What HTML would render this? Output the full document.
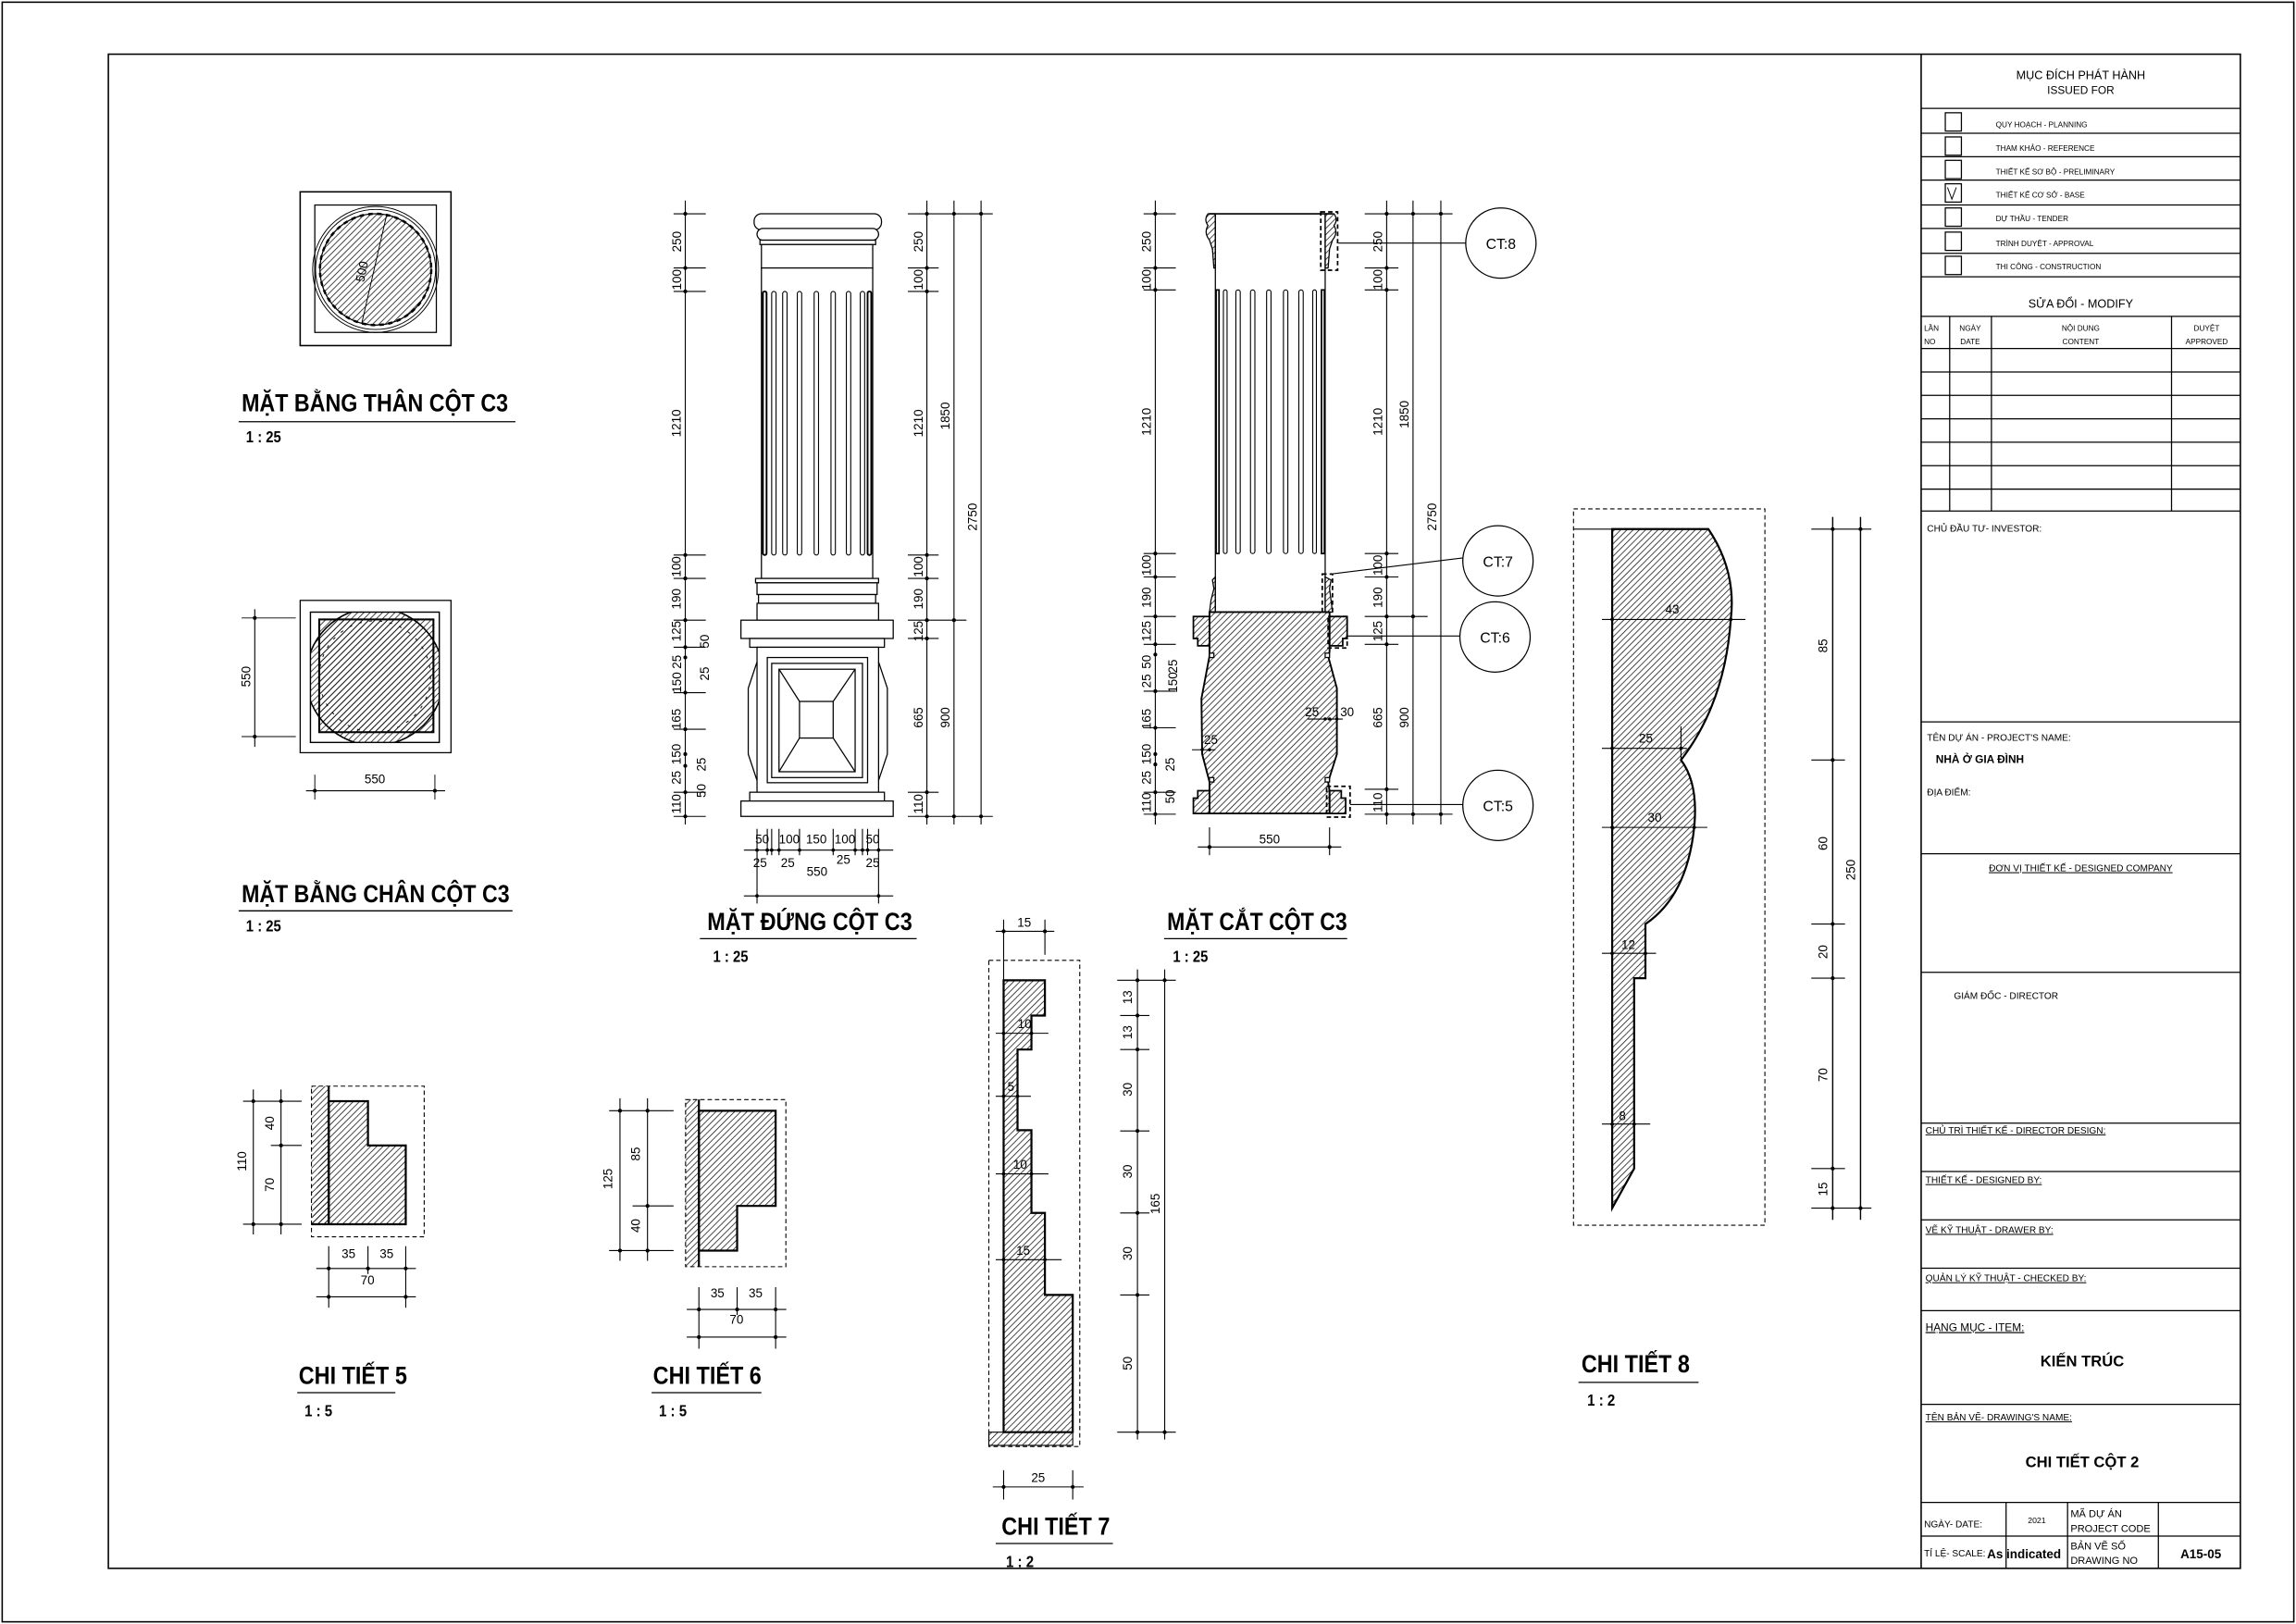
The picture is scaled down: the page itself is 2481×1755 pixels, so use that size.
<!DOCTYPE html>
<html><head><meta charset="utf-8"><style>
html,body{margin:0;padding:0;background:#fff;}
svg{display:block;}
text{font-family:"Liberation Sans",Arial,sans-serif;fill:#000;}
.n{font-family:"Liberation Sans Narrow","Liberation Sans",sans-serif;font-size:8.5px;}
.t{font-weight:bold;font-size:17px;}
.s{font-weight:bold;font-size:11px;}
.tb{font-size:5.2px;}
.tl{font-size:6.4px;}
</style></head><body>
<svg width="2481" height="1755" viewBox="0 0 1568 1109" preserveAspectRatio="none" xmlns="http://www.w3.org/2000/svg">
<defs>
<pattern id="h" width="3" height="3" patternUnits="userSpaceOnUse" patternTransform="rotate(45)"><line x1="0.5" y1="0" x2="0.5" y2="3" stroke="#000" stroke-width="0.45"/></pattern>
<g id="dot"><circle r="1.3" fill="#000"/></g>
</defs>
<rect width="1568" height="1109" fill="#fff"/>
<rect x="1.5" y="1.5" width="1565" height="1106" fill="none" stroke="#000" stroke-width="1"/>
<rect x="74" y="37" width="1456" height="1034" fill="none" stroke="#000" stroke-width="1"/>

<!-- ================= TITLE BLOCK ================= -->
<g stroke="#000" stroke-width="0.8" fill="none">
<line x1="1312" y1="37" x2="1312" y2="1071" stroke-width="1"/>
<line x1="1312" y1="74" x2="1530" y2="74"/>
<line x1="1312" y1="91" x2="1530" y2="91"/>
<line x1="1312" y1="107" x2="1530" y2="107"/>
<line x1="1312" y1="123" x2="1530" y2="123"/>
<line x1="1312" y1="140" x2="1530" y2="140"/>
<line x1="1312" y1="156" x2="1530" y2="156"/>
<line x1="1312" y1="173" x2="1530" y2="173"/>
<line x1="1312" y1="189" x2="1530" y2="189"/>
<line x1="1312" y1="216" x2="1530" y2="216"/>
<line x1="1312" y1="238" x2="1530" y2="238"/>
<line x1="1312" y1="254" x2="1530" y2="254"/>
<line x1="1312" y1="270" x2="1530" y2="270"/>
<line x1="1312" y1="286" x2="1530" y2="286"/>
<line x1="1312" y1="302" x2="1530" y2="302"/>
<line x1="1312" y1="318" x2="1530" y2="318"/>
<line x1="1312" y1="334" x2="1530" y2="334"/>
<line x1="1312" y1="349" x2="1530" y2="349"/>
<line x1="1331.5" y1="216" x2="1331.5" y2="349"/>
<line x1="1360" y1="216" x2="1360" y2="349"/>
<line x1="1483" y1="216" x2="1483" y2="349"/>
<line x1="1312" y1="493" x2="1530" y2="493"/>
<line x1="1312" y1="583" x2="1530" y2="583"/>
<line x1="1312" y1="664" x2="1530" y2="664"/>
<line x1="1312" y1="767" x2="1530" y2="767"/>
<line x1="1312" y1="800" x2="1530" y2="800"/>
<line x1="1312" y1="833" x2="1530" y2="833"/>
<line x1="1312" y1="866" x2="1530" y2="866"/>
<line x1="1312" y1="895" x2="1530" y2="895"/>
<line x1="1312" y1="959" x2="1530" y2="959"/>
<line x1="1312" y1="1026" x2="1530" y2="1026"/>
<line x1="1312" y1="1049" x2="1530" y2="1049"/>
<line x1="1370" y1="1026" x2="1370" y2="1071"/>
<line x1="1412" y1="1026" x2="1412" y2="1071"/>
<line x1="1474" y1="1026" x2="1474" y2="1071"/>
<rect x="1328.5" y="77" width="11" height="12.5"/>
<rect x="1328.5" y="93.5" width="11" height="12.5"/>
<rect x="1328.5" y="109.5" width="11" height="12.5"/>
<rect x="1328.5" y="125.5" width="11" height="12.5"/>
<rect x="1328.5" y="142" width="11" height="12.5"/>
<rect x="1328.5" y="158.5" width="11" height="12.5"/>
<rect x="1328.5" y="175" width="11" height="12.5"/>
<polyline points="1330,128 1333,136 1336,128" stroke-width="0.6"/>
</g>
<text x="1421" y="54" font-size="8" text-anchor="middle">MỤC ĐÍCH PHÁT HÀNH</text>
<text x="1421" y="64" font-size="7.5" text-anchor="middle">ISSUED FOR</text>
<text class="tb" x="1363" y="87">QUY HOẠCH - PLANNING</text>
<text class="tb" x="1363" y="103">THAM KHẢO  -  REFERENCE</text>
<text class="tb" x="1363" y="119">THIẾT KẾ SƠ BỘ  -  PRELIMINARY</text>
<text class="tb" x="1363" y="135">THIẾT KẾ CƠ SỞ  -  BASE</text>
<text class="tb" x="1363" y="151">DỰ THẦU  -  TENDER</text>
<text class="tb" x="1363" y="168">TRÌNH DUYỆT  -  APPROVAL</text>
<text class="tb" x="1363" y="184">THI CÔNG  -  CONSTRUCTION</text>
<text x="1421" y="210" font-size="8" text-anchor="middle">SỬA ĐỔI - MODIFY</text>
<text class="tb" x="1314" y="226">LẦN</text><text class="tb" x="1314" y="235">NO</text>
<text class="tb" x="1345.5" y="226" text-anchor="middle">NGÀY</text><text class="tb" x="1345.5" y="235" text-anchor="middle">DATE</text>
<text class="tb" x="1421" y="226" text-anchor="middle">NỘI DUNG</text><text class="tb" x="1421" y="235" text-anchor="middle">CONTENT</text>
<text class="tb" x="1507" y="226" text-anchor="middle">DUYỆT</text><text class="tb" x="1507" y="235" text-anchor="middle">APPROVED</text>
<text class="tl" x="1316" y="363">CHỦ ĐẦU TƯ- INVESTOR:</text>
<text class="tl" x="1316" y="506">TÊN DỰ ÁN - PROJECT'S NAME:</text>
<text x="1322" y="521" font-size="7.5" font-weight="bold">NHÀ Ở GIA ĐÌNH</text>
<text class="tl" x="1316" y="543">ĐỊA ĐIỂM:</text>
<text class="tl" x="1421" y="595" text-anchor="middle" text-decoration="underline">ĐƠN VỊ THIẾT KẾ - DESIGNED COMPANY</text>
<text class="tl" x="1370" y="682" text-anchor="middle">GIÁM ĐỐC - DIRECTOR</text>
<text class="tl" x="1315" y="774" text-decoration="underline">CHỦ TRÌ THIẾT KẾ - DIRECTOR DESIGN:</text>
<text class="tl" x="1315" y="808" text-decoration="underline">THIẾT KẾ - DESIGNED BY:</text>
<text class="tl" x="1315" y="842" text-decoration="underline">VẼ KỸ THUẬT - DRAWER BY:</text>
<text class="tl" x="1315" y="875" text-decoration="underline">QUẢN LÝ KỸ THUẬT - CHECKED BY:</text>
<text x="1315" y="909" font-size="7.5" text-decoration="underline">HẠNG MỤC - ITEM:</text>
<text x="1422" y="933" font-size="10.5" font-weight="bold" text-anchor="middle">KIẾN TRÚC</text>
<text class="tl" x="1315" y="970" text-decoration="underline">TÊN BẢN VẼ- DRAWING'S NAME:</text>
<text x="1422" y="1002" font-size="10.5" font-weight="bold" text-anchor="middle">CHI TIẾT CỘT 2</text>
<text class="tl" x="1314" y="1043">NGÀY- DATE:</text>
<text x="1391" y="1040" font-size="5.5" text-anchor="middle">2021</text>
<text x="1414" y="1036" font-size="7">MÃ DỰ ÁN</text>
<text x="1414" y="1046" font-size="7">PROJECT CODE</text>
<text class="tl" x="1314" y="1063">TỈ LỆ- SCALE:</text>
<text x="1357" y="1064" font-size="8.5" font-weight="bold">As indicated</text>
<text x="1414" y="1058" font-size="7">BẢN VẼ SỐ</text>
<text x="1414" y="1068" font-size="7">DRAWING NO</text>
<text x="1503" y="1064" font-size="8.5" font-weight="bold" text-anchor="middle">A15-05</text>

<!-- ================= PLAN 1 ================= -->
<g stroke="#000" fill="none">
<rect x="205" y="131" width="103" height="105" stroke-width="1"/>
<rect x="215" y="140" width="83" height="87" stroke-width="0.8"/>
<circle cx="256.5" cy="184" r="43" stroke-width="0.6"/>
<circle cx="256.5" cy="184" r="41" stroke-width="0.6"/>
<circle cx="256.5" cy="184" r="38" fill="url(#h)" stroke-width="0.8"/>
<circle cx="256.5" cy="184" r="38" stroke-width="1.6" stroke-dasharray="3,3"/>
<line x1="264" y1="147" x2="247" y2="221" stroke-width="0.6"/>
</g>
<text class="n" x="250" y="186" transform="rotate(-78 250 186)" text-anchor="middle">500</text>
<text class="t" x="165" y="281" textLength="182" lengthAdjust="spacingAndGlyphs">MẶT BẰNG THÂN CỘT C3</text>
<line x1="163" y1="288" x2="352" y2="288" stroke="#000" stroke-width="0.8"/>
<text class="s" x="168" y="302" textLength="24" lengthAdjust="spacingAndGlyphs">1 : 25</text>

<!-- ================= PLAN 2 ================= -->
<g stroke="#000" fill="none">
<rect x="205" y="410" width="103" height="104" stroke-width="0.8"/>
<rect x="212" y="418" width="88" height="89" stroke-width="0.9"/>
<clipPath id="cp2"><rect x="212" y="418" width="88" height="89"/></clipPath>
<circle cx="256" cy="462" r="47" fill="url(#h)" stroke-width="1" clip-path="url(#cp2)"/>
<rect x="218" y="423" width="78" height="77" fill="url(#h)" stroke-width="1.3"/>
<circle cx="256" cy="462" r="38" stroke-width="0.6" stroke-dasharray="2,5"/>
<line x1="174" y1="416" x2="174" y2="510" stroke-width="0.7"/>
<line x1="165" y1="422" x2="202" y2="422" stroke-width="0.6"/>
<line x1="165" y1="503" x2="202" y2="503" stroke-width="0.6"/>
<line x1="209" y1="540" x2="304" y2="540" stroke-width="0.7"/>
<line x1="215" y1="529" x2="215" y2="546" stroke-width="0.6"/>
<line x1="297" y1="529" x2="297" y2="546" stroke-width="0.6"/>
</g>
<circle cx="174" cy="422" r="1.3"/><circle cx="174" cy="503" r="1.3"/>
<circle cx="215" cy="540" r="1.3"/><circle cx="297" cy="540" r="1.3"/>
<text class="n" x="171" y="462" transform="rotate(-90 171 462)" text-anchor="middle">550</text>
<text class="n" x="256" y="535" text-anchor="middle">550</text>
<text class="t" x="165" y="616" textLength="183" lengthAdjust="spacingAndGlyphs">MẶT BẰNG CHÂN CỘT C3</text>
<line x1="163" y1="622" x2="350" y2="622" stroke="#000" stroke-width="0.8"/>
<text class="s" x="168" y="636" textLength="24" lengthAdjust="spacingAndGlyphs">1 : 25</text>

<!-- ================= FRONT ELEVATION ================= -->
<g stroke="#000" fill="#fff" stroke-width="0.8">
<rect x="515" y="146" width="87" height="11" rx="5"/>
<rect x="517" y="156" width="83" height="8" rx="4"/>
<rect x="519" y="164" width="79" height="3"/>
<rect x="520" y="167" width="76" height="16"/>
<line x1="520" y1="183" x2="596" y2="183" stroke-dasharray="3,2"/>
<rect x="520" y="183" width="76" height="212"/>
<rect x="516" y="395" width="84" height="3"/>
<rect x="517" y="398" width="82" height="8"/>
<rect x="518" y="406" width="80" height="6"/>
<rect x="517" y="412" width="83" height="11.5"/>
<rect x="506" y="423.5" width="104" height="12.5"/>
<rect x="512" y="436" width="92" height="6"/>
<rect x="517" y="442" width="83" height="99"/>
<rect x="524" y="449" width="68.5" height="85.5"/>
<rect x="527" y="453" width="62" height="78"/>
<rect x="532" y="457" width="52" height="70"/>
<rect x="546" y="479" width="23" height="25"/>
<line x1="532" y1="457" x2="546" y2="479"/><line x1="584" y1="457" x2="569" y2="479"/>
<line x1="532" y1="527" x2="546" y2="504"/><line x1="584" y1="527" x2="569" y2="504"/>
<path d="M517 452 L511 470 L511 515 L517 533" fill="none"/>
<path d="M600 452 L606 470 L606 515 L600 533" fill="none"/>
<rect x="512" y="541" width="92" height="6"/>
<rect x="506" y="547" width="104" height="10.5"/>
</g>
<g stroke="#000" fill="none" stroke-width="0.7">
<rect x="521" y="199" width="2.5" height="180" rx="1.2" stroke-width="1.2"/>
<rect x="527" y="199" width="3" height="180" rx="1.5"/>
<rect x="534.5" y="199" width="3" height="180" rx="1.5"/>
<rect x="544.5" y="199" width="3" height="180" rx="1.5"/>
<rect x="556" y="199" width="3" height="180" rx="1.5"/>
<rect x="567.5" y="199" width="3" height="180" rx="1.5"/>
<rect x="578" y="199" width="3" height="180" rx="1.5"/>
<rect x="587.5" y="199" width="3" height="180" rx="1.5"/>
<rect x="592.5" y="199" width="2.5" height="180" rx="1.2" stroke-width="1.2"/>
<!-- left dims -->
<line x1="468" y1="137" x2="468" y2="563"/>
<line x1="460" y1="146" x2="482" y2="146"/><line x1="460" y1="183" x2="482" y2="183"/>
<line x1="460" y1="199" x2="482" y2="199"/><line x1="460" y1="379" x2="482" y2="379"/>
<line x1="460" y1="395" x2="482" y2="395"/><line x1="460" y1="423.5" x2="482" y2="423.5"/>
<line x1="460" y1="442" x2="482" y2="442"/><line x1="460" y1="473" x2="482" y2="473"/>
<line x1="460" y1="498" x2="482" y2="498"/><line x1="460" y1="541" x2="482" y2="541"/>
<line x1="460" y1="557.5" x2="482" y2="557.5"/>
<!-- right dims -->
<line x1="633" y1="137" x2="633" y2="563"/><line x1="651.5" y1="137" x2="651.5" y2="563"/><line x1="670" y1="137" x2="670" y2="563"/>
<line x1="620" y1="146" x2="678" y2="146"/><line x1="620" y1="183" x2="641" y2="183"/>
<line x1="620" y1="199" x2="641" y2="199"/><line x1="620" y1="379" x2="641" y2="379"/>
<line x1="620" y1="395" x2="641" y2="395"/><line x1="620" y1="423.5" x2="660" y2="423.5"/>
<line x1="620" y1="436" x2="641" y2="436"/><line x1="620" y1="541" x2="641" y2="541"/>
<line x1="620" y1="557.5" x2="678" y2="557.5"/>
<!-- bottom dims -->
<line x1="508" y1="580.5" x2="610" y2="580.5"/><line x1="508" y1="611.8" x2="610" y2="611.8"/>
<line x1="517" y1="566" x2="517" y2="617"/><line x1="600" y1="566" x2="600" y2="617"/>
<line x1="524" y1="566" x2="524" y2="584"/><line x1="527" y1="566" x2="527" y2="584"/><line x1="532" y1="566" x2="532" y2="584"/>
<line x1="546" y1="566" x2="546" y2="584"/><line x1="569" y1="566" x2="569" y2="584"/>
<line x1="584" y1="566" x2="584" y2="584"/><line x1="589" y1="566" x2="589" y2="584"/><line x1="592.5" y1="566" x2="592.5" y2="584"/>
</g>
<g fill="#000">
<circle cx="468" cy="146" r="1.3"/><circle cx="468" cy="183" r="1.3"/><circle cx="468" cy="199" r="1.3"/><circle cx="468" cy="379" r="1.3"/><circle cx="468" cy="395" r="1.3"/><circle cx="468" cy="423.5" r="1.3"/><circle cx="468" cy="442" r="1.3"/><circle cx="468" cy="449" r="1.3"/><circle cx="468" cy="473" r="1.3"/><circle cx="468" cy="498" r="1.3"/><circle cx="468" cy="515" r="1.3"/><circle cx="468" cy="523" r="1.3"/><circle cx="468" cy="541" r="1.3"/><circle cx="468" cy="557.5" r="1.3"/>
<circle cx="633" cy="146" r="1.3"/><circle cx="633" cy="183" r="1.3"/><circle cx="633" cy="199" r="1.3"/><circle cx="633" cy="379" r="1.3"/><circle cx="633" cy="395" r="1.3"/><circle cx="633" cy="423.5" r="1.3"/><circle cx="633" cy="436" r="1.3"/><circle cx="633" cy="541" r="1.3"/><circle cx="633" cy="557.5" r="1.3"/>
<circle cx="651.5" cy="146" r="1.3"/><circle cx="651.5" cy="423.5" r="1.3"/><circle cx="651.5" cy="557.5" r="1.3"/>
<circle cx="670" cy="146" r="1.3"/><circle cx="670" cy="557.5" r="1.3"/>
<circle cx="517" cy="580.5" r="1.2"/><circle cx="524" cy="580.5" r="1.2"/><circle cx="527" cy="580.5" r="1.2"/><circle cx="532" cy="580.5" r="1.2"/><circle cx="546" cy="580.5" r="1.2"/><circle cx="569" cy="580.5" r="1.2"/><circle cx="584" cy="580.5" r="1.2"/><circle cx="589" cy="580.5" r="1.2"/><circle cx="592.5" cy="580.5" r="1.2"/><circle cx="600" cy="580.5" r="1.2"/>
<circle cx="517" cy="611.8" r="1.2"/><circle cx="600" cy="611.8" r="1.2"/>
</g>
<g class="n">
<text class="n" x="465" y="165" transform="rotate(-90 465 165)" text-anchor="middle">250</text>
<text class="n" x="465" y="191" transform="rotate(-90 465 191)" text-anchor="middle">100</text>
<text class="n" x="465" y="289" transform="rotate(-90 465 289)" text-anchor="middle">1210</text>
<text class="n" x="465" y="387" transform="rotate(-90 465 387)" text-anchor="middle">100</text>
<text class="n" x="465" y="409" transform="rotate(-90 465 409)" text-anchor="middle">190</text>
<text class="n" x="465" y="431" transform="rotate(-90 465 431)" text-anchor="middle">125</text>
<text class="n" x="465" y="452" transform="rotate(-90 465 452)" text-anchor="middle">25</text>
<text class="n" x="465" y="466" transform="rotate(-90 465 466)" text-anchor="middle">150</text>
<text class="n" x="465" y="491" transform="rotate(-90 465 491)" text-anchor="middle">165</text>
<text class="n" x="465" y="515" transform="rotate(-90 465 515)" text-anchor="middle">150</text>
<text class="n" x="465" y="531" transform="rotate(-90 465 531)" text-anchor="middle">25</text>
<text class="n" x="465" y="549" transform="rotate(-90 465 549)" text-anchor="middle">110</text>
<text class="n" x="484" y="438" transform="rotate(-90 484 438)" text-anchor="middle">50</text>
<text class="n" x="484" y="460" transform="rotate(-90 484 460)" text-anchor="middle">25</text>
<text class="n" x="482" y="522" transform="rotate(-90 482 522)" text-anchor="middle">25</text>
<text class="n" x="482" y="540" transform="rotate(-90 482 540)" text-anchor="middle">50</text>
<text class="n" x="630" y="165" transform="rotate(-90 630 165)" text-anchor="middle">250</text>
<text class="n" x="630" y="191" transform="rotate(-90 630 191)" text-anchor="middle">100</text>
<text class="n" x="630" y="289" transform="rotate(-90 630 289)" text-anchor="middle">1210</text>
<text class="n" x="630" y="387" transform="rotate(-90 630 387)" text-anchor="middle">100</text>
<text class="n" x="630" y="409" transform="rotate(-90 630 409)" text-anchor="middle">190</text>
<text class="n" x="630" y="431" transform="rotate(-90 630 431)" text-anchor="middle">125</text>
<text class="n" x="630" y="490" transform="rotate(-90 630 490)" text-anchor="middle">665</text>
<text class="n" x="630" y="549" transform="rotate(-90 630 549)" text-anchor="middle">110</text>
<text class="n" x="648.5" y="284" transform="rotate(-90 648.5 284)" text-anchor="middle">1850</text>
<text class="n" x="648.5" y="490" transform="rotate(-90 648.5 490)" text-anchor="middle">900</text>
<text class="n" x="667" y="353" transform="rotate(-90 667 353)" text-anchor="middle">2750</text>
<text class="n" x="520.5" y="576" text-anchor="middle">50</text>
<text class="n" x="539" y="576" text-anchor="middle">100</text>
<text class="n" x="557.5" y="576" text-anchor="middle">150</text>
<text class="n" x="577" y="576" text-anchor="middle">100</text>
<text class="n" x="596" y="576" text-anchor="middle">50</text>
<text class="n" x="519" y="592" text-anchor="middle">25</text>
<text class="n" x="538" y="592" text-anchor="middle">25</text>
<text class="n" x="576" y="590" text-anchor="middle">25</text>
<text class="n" x="596" y="592" text-anchor="middle">25</text>
<text class="n" x="558" y="598" text-anchor="middle">550</text>
</g>
<text class="t" x="483" y="635" textLength="140" lengthAdjust="spacingAndGlyphs">MẶT ĐỨNG CỘT C3</text>
<line x1="478" y1="641" x2="626" y2="641" stroke="#000" stroke-width="0.8"/>
<text class="s" x="487" y="657" textLength="24" lengthAdjust="spacingAndGlyphs">1 : 25</text>

<!-- ================= SECTION ================= -->
<g stroke="#000" stroke-width="0.8">
<line x1="826" y1="146" x2="910" y2="146" stroke-width="1"/>
<line x1="830" y1="146" x2="830" y2="418"/>
<line x1="905" y1="146" x2="905" y2="418"/>
<path d="M830 146 L825 146 Q822 150 825 154 Q822 159 826 164 L828 170 L829 183 L830 183 Z" fill="url(#h)"/>
<path d="M905 146 L911 146 Q914 150 911 154 Q914 159 910 164 L908 170 L907 183 L905 183 Z" fill="url(#h)"/>
<path d="M830 394 L828 396 L829 402 L827 410 L826 418 L830 418 Z" fill="url(#h)"/>
<path d="M905 394 L909 396 L908 402 L909 410 L910 418 L905 418 Z" fill="url(#h)"/>
<path d="M826 418 L908 418 L908 445 L907 448 L913 470 L913 515 L907 534 L908 540 L908 555.5 L826 555.5 L826 534 L821 515 L820.5 477 L826 448 Z" fill="url(#h)" stroke-width="1.2"/>
<path d="M826 421 L815 421 L815 436 L818 436 L818 441 L826 441 Z" fill="url(#h)" stroke-width="1.1"/>
<path d="M908 421 L920 421 L920 436 L917 436 L917 441 L908 441 Z" fill="url(#h)" stroke-width="1.1"/>
<path d="M826 540 L818 540 L818 545 L815 545 L815 555.5 L826 555.5 Z" fill="url(#h)" stroke-width="1.1"/>
<path d="M908 540 L916 540 L916 545 L919 545 L919 555.5 L908 555.5 Z" fill="url(#h)" stroke-width="1.1"/>
<rect x="826" y="446" width="3" height="3" fill="#fff"/><rect x="905" y="446" width="3" height="3" fill="#fff"/>
<rect x="826" y="531" width="3" height="3" fill="#fff"/><rect x="905" y="531" width="3" height="3" fill="#fff"/>
</g>
<g stroke="#000" fill="none" stroke-width="0.7">
<rect x="830.5" y="198" width="2" height="180" stroke-width="1.1"/>
<rect x="835.5" y="198" width="2.5" height="180" rx="1.2"/>
<rect x="844" y="198" width="3" height="180" rx="1.5"/>
<rect x="854" y="198" width="3" height="180" rx="1.5"/>
<rect x="865" y="198" width="3" height="180" rx="1.5"/>
<rect x="876.5" y="198" width="3" height="180" rx="1.5"/>
<rect x="887" y="198" width="3" height="180" rx="1.5"/>
<rect x="896.5" y="198" width="2.5" height="180" rx="1.2"/>
<rect x="902.5" y="198" width="2" height="180" stroke-width="1.1"/>
<g stroke-dasharray="3,2" stroke-width="1.1">
<rect x="902" y="144.7" width="11.5" height="39.8"/>
<rect x="903" y="392" width="7" height="26"/>
<rect x="907" y="421" width="13" height="21.5"/>
<rect x="906" y="537" width="16" height="21"/>
</g>
<line x1="914" y1="166" x2="1001" y2="166"/>
<line x1="909" y1="392" x2="999" y2="381"/>
<line x1="920" y1="434.3" x2="997" y2="434.3"/>
<line x1="922" y1="549.4" x2="999" y2="549.4"/>
<circle cx="1025" cy="166" r="24" stroke-width="0.8"/>
<circle cx="1023" cy="383" r="24" stroke-width="0.8"/>
<circle cx="1021" cy="435" r="24" stroke-width="0.8"/>
<circle cx="1023" cy="550" r="24" stroke-width="0.8"/>
<!-- section dims -->
<line x1="789" y1="137" x2="789" y2="563"/>
<line x1="781" y1="146" x2="803" y2="146"/><line x1="781" y1="183" x2="803" y2="183"/>
<line x1="781" y1="198" x2="803" y2="198"/><line x1="781" y1="378" x2="803" y2="378"/>
<line x1="781" y1="394" x2="803" y2="394"/><line x1="781" y1="421" x2="803" y2="421"/>
<line x1="781" y1="440" x2="803" y2="440"/><line x1="781" y1="472" x2="803" y2="472"/>
<line x1="781" y1="497" x2="803" y2="497"/><line x1="781" y1="541" x2="803" y2="541"/>
<line x1="781" y1="556" x2="803" y2="556"/>
<line x1="947" y1="137" x2="947" y2="563"/><line x1="965" y1="137" x2="965" y2="563"/><line x1="984" y1="137" x2="984" y2="563"/>
<line x1="932" y1="146" x2="992" y2="146"/><line x1="932" y1="183" x2="955" y2="183"/>
<line x1="932" y1="198" x2="955" y2="198"/><line x1="932" y1="378" x2="955" y2="378"/>
<line x1="932" y1="394" x2="955" y2="394"/><line x1="932" y1="421" x2="975" y2="421"/>
<line x1="932" y1="440" x2="955" y2="440"/><line x1="932" y1="539" x2="955" y2="539"/>
<line x1="932" y1="556" x2="992" y2="556"/>
<line x1="818" y1="578.4" x2="916" y2="578.4"/>
<line x1="826" y1="565" x2="826" y2="584"/><line x1="908" y1="565" x2="908" y2="584"/>
<line x1="814" y1="512" x2="830" y2="512"/><line x1="893" y1="491" x2="917" y2="491"/>
</g>
<g fill="#000">
<circle cx="789" cy="146" r="1.3"/><circle cx="789" cy="183" r="1.3"/><circle cx="789" cy="198" r="1.3"/><circle cx="789" cy="378" r="1.3"/><circle cx="789" cy="394" r="1.3"/><circle cx="789" cy="421" r="1.3"/><circle cx="789" cy="440" r="1.3"/><circle cx="789" cy="447" r="1.3"/><circle cx="789" cy="472" r="1.3"/><circle cx="789" cy="497" r="1.3"/><circle cx="789" cy="515" r="1.3"/><circle cx="789" cy="522" r="1.3"/><circle cx="789" cy="541" r="1.3"/><circle cx="789" cy="556" r="1.3"/>
<circle cx="947" cy="146" r="1.3"/><circle cx="947" cy="183" r="1.3"/><circle cx="947" cy="198" r="1.3"/><circle cx="947" cy="378" r="1.3"/><circle cx="947" cy="394" r="1.3"/><circle cx="947" cy="421" r="1.3"/><circle cx="947" cy="440" r="1.3"/><circle cx="947" cy="539" r="1.3"/><circle cx="947" cy="556" r="1.3"/>
<circle cx="965" cy="146" r="1.3"/><circle cx="965" cy="421" r="1.3"/><circle cx="965" cy="556" r="1.3"/>
<circle cx="984" cy="146" r="1.3"/><circle cx="984" cy="556" r="1.3"/>
<circle cx="826" cy="578.4" r="1.3"/><circle cx="908" cy="578.4" r="1.3"/>
<circle cx="821" cy="512" r="1.1"/><circle cx="826" cy="512" r="1.1"/>
<circle cx="905" cy="491" r="1.1"/><circle cx="908" cy="491" r="1.1"/><circle cx="913" cy="491" r="1.1"/>
</g>
<g>
<text class="n" x="786" y="165" transform="rotate(-90 786 165)" text-anchor="middle">250</text>
<text class="n" x="786" y="191" transform="rotate(-90 786 191)" text-anchor="middle">100</text>
<text class="n" x="786" y="288" transform="rotate(-90 786 288)" text-anchor="middle">1210</text>
<text class="n" x="786" y="386" transform="rotate(-90 786 386)" text-anchor="middle">100</text>
<text class="n" x="786" y="408" transform="rotate(-90 786 408)" text-anchor="middle">190</text>
<text class="n" x="786" y="431" transform="rotate(-90 786 431)" text-anchor="middle">125</text>
<text class="n" x="786" y="452" transform="rotate(-90 786 452)" text-anchor="middle">50</text>
<text class="n" x="786" y="465" transform="rotate(-90 786 465)" text-anchor="middle">25</text>
<text class="n" x="786" y="491" transform="rotate(-90 786 491)" text-anchor="middle">165</text>
<text class="n" x="786" y="515" transform="rotate(-90 786 515)" text-anchor="middle">150</text>
<text class="n" x="786" y="531" transform="rotate(-90 786 531)" text-anchor="middle">25</text>
<text class="n" x="786" y="548" transform="rotate(-90 786 548)" text-anchor="middle">110</text>
<text class="n" x="804" y="455" transform="rotate(-90 804 455)" text-anchor="middle">25</text>
<text class="n" x="804" y="466" transform="rotate(-90 804 466)" text-anchor="middle">150</text>
<text class="n" x="802" y="522" transform="rotate(-90 802 522)" text-anchor="middle">25</text>
<text class="n" x="802" y="544" transform="rotate(-90 802 544)" text-anchor="middle">50</text>
<text class="n" x="944" y="165" transform="rotate(-90 944 165)" text-anchor="middle">250</text>
<text class="n" x="944" y="191" transform="rotate(-90 944 191)" text-anchor="middle">100</text>
<text class="n" x="944" y="288" transform="rotate(-90 944 288)" text-anchor="middle">1210</text>
<text class="n" x="944" y="386" transform="rotate(-90 944 386)" text-anchor="middle">100</text>
<text class="n" x="944" y="408" transform="rotate(-90 944 408)" text-anchor="middle">190</text>
<text class="n" x="944" y="431" transform="rotate(-90 944 431)" text-anchor="middle">125</text>
<text class="n" x="944" y="490" transform="rotate(-90 944 490)" text-anchor="middle">665</text>
<text class="n" x="944" y="548" transform="rotate(-90 944 548)" text-anchor="middle">110</text>
<text class="n" x="962" y="283" transform="rotate(-90 962 283)" text-anchor="middle">1850</text>
<text class="n" x="962" y="490" transform="rotate(-90 962 490)" text-anchor="middle">900</text>
<text class="n" x="981" y="353" transform="rotate(-90 981 353)" text-anchor="middle">2750</text>
<text class="n" x="896" y="489" text-anchor="middle">25</text>
<text class="n" x="920" y="489" text-anchor="middle">30</text>
<text class="n" x="827" y="508" text-anchor="middle">25</text>
<text class="n" x="867" y="576" text-anchor="middle">550</text>
<text x="1025" y="170" font-size="10" text-anchor="middle">CT:8</text>
<text x="1023" y="387" font-size="10" text-anchor="middle">CT:7</text>
<text x="1021" y="439" font-size="10" text-anchor="middle">CT:6</text>
<text x="1023" y="554" font-size="10" text-anchor="middle">CT:5</text>
</g>
<text class="t" x="797" y="635" textLength="123" lengthAdjust="spacingAndGlyphs">MẶT CẮT CỘT C3</text>
<line x1="795" y1="641" x2="920" y2="641" stroke="#000" stroke-width="0.8"/>
<text class="s" x="801" y="657" textLength="24" lengthAdjust="spacingAndGlyphs">1 : 25</text>

<!-- ================= CHI TIET 5 ================= -->
<g stroke="#000" stroke-width="0.7" fill="none">
<rect x="212.7" y="741.7" width="77" height="102.9" stroke-dasharray="3,2"/>
<rect x="212.7" y="741.7" width="11.8" height="94.3" fill="url(#h)" stroke="none"/>
<path d="M224.5 752 L251.3 752 L251.3 782.2 L277.1 782.2 L277.1 836 L212.7 836 M224.5 836 L224.5 752" fill="url(#h)" stroke-width="1.4"/>
<line x1="224.5" y1="741.7" x2="224.5" y2="836" stroke-width="1.4"/>
<line x1="173" y1="744" x2="173" y2="843"/><line x1="191.9" y1="744" x2="191.9" y2="843"/>
<line x1="166" y1="752" x2="206" y2="752"/><line x1="185" y1="782.2" x2="206" y2="782.2"/><line x1="166" y1="836" x2="206" y2="836"/>
<line x1="216" y1="866.2" x2="284" y2="866.2"/><line x1="216" y1="885.6" x2="284" y2="885.6"/>
<line x1="224.5" y1="851" x2="224.5" y2="893"/><line x1="251.3" y1="851" x2="251.3" y2="870"/><line x1="277.1" y1="851" x2="277.1" y2="893"/>
</g>
<g fill="#000">
<circle cx="173" cy="752" r="1.3"/><circle cx="173" cy="836" r="1.3"/><circle cx="191.9" cy="752" r="1.3"/><circle cx="191.9" cy="782.2" r="1.3"/><circle cx="191.9" cy="836" r="1.3"/>
<circle cx="224.5" cy="866.2" r="1.3"/><circle cx="251.3" cy="866.2" r="1.3"/><circle cx="277.1" cy="866.2" r="1.3"/><circle cx="224.5" cy="885.6" r="1.3"/><circle cx="277.1" cy="885.6" r="1.3"/>
</g>
<text class="n" x="187" y="767" transform="rotate(-90 187 767)" text-anchor="middle">40</text>
<text class="n" x="187" y="809" transform="rotate(-90 187 809)" text-anchor="middle">70</text>
<text class="n" x="168" y="793" transform="rotate(-90 168 793)" text-anchor="middle">110</text>
<text class="n" x="238" y="859" text-anchor="middle">35</text>
<text class="n" x="264" y="859" text-anchor="middle">35</text>
<text class="n" x="251" y="877" text-anchor="middle">70</text>
<text class="t" x="204" y="945" textLength="74" lengthAdjust="spacingAndGlyphs">CHI TIẾT 5</text>
<line x1="203" y1="951" x2="270" y2="951" stroke="#000" stroke-width="0.8"/>
<text class="s" x="208" y="967" textLength="19" lengthAdjust="spacingAndGlyphs">1 : 5</text>

<!-- ================= CHI TIET 6 ================= -->
<g stroke="#000" stroke-width="0.7" fill="none">
<rect x="468.2" y="750.9" width="68.5" height="114.1" stroke-dasharray="3,2"/>
<rect x="468.2" y="750.9" width="9.1" height="114.1" fill="url(#h)" stroke="none"/>
<path d="M477.3 758.5 L529.7 758.5 L529.7 823.5 L503.4 823.5 L503.4 854 L477.3 854 Z" fill="url(#h)" stroke-width="1.4"/>
<line x1="477.3" y1="750.9" x2="477.3" y2="865" stroke-width="1.4"/>
<line x1="423.4" y1="750" x2="423.4" y2="861"/><line x1="442.2" y1="750" x2="442.2" y2="861"/>
<line x1="416" y1="758.5" x2="460" y2="758.5"/><line x1="432" y1="823.5" x2="460" y2="823.5"/><line x1="416" y1="854" x2="460" y2="854"/>
<line x1="469" y1="894.2" x2="537" y2="894.2"/><line x1="469" y1="913.1" x2="537" y2="913.1"/>
<line x1="477.3" y1="879" x2="477.3" y2="921"/><line x1="503.4" y1="879" x2="503.4" y2="898"/><line x1="529.7" y1="879" x2="529.7" y2="921"/>
</g>
<g fill="#000">
<circle cx="423.4" cy="758.5" r="1.3"/><circle cx="423.4" cy="854" r="1.3"/><circle cx="442.2" cy="758.5" r="1.3"/><circle cx="442.2" cy="823.5" r="1.3"/><circle cx="442.2" cy="854" r="1.3"/>
<circle cx="477.3" cy="894.2" r="1.3"/><circle cx="503.4" cy="894.2" r="1.3"/><circle cx="529.7" cy="894.2" r="1.3"/><circle cx="477.3" cy="913.1" r="1.3"/><circle cx="529.7" cy="913.1" r="1.3"/>
</g>
<text class="n" x="437" y="788" transform="rotate(-90 437 788)" text-anchor="middle">85</text>
<text class="n" x="437" y="837" transform="rotate(-90 437 837)" text-anchor="middle">40</text>
<text class="n" x="418" y="805" transform="rotate(-90 418 805)" text-anchor="middle">125</text>
<text class="n" x="490" y="886" text-anchor="middle">35</text>
<text class="n" x="516" y="886" text-anchor="middle">35</text>
<text class="n" x="503" y="904" text-anchor="middle">70</text>
<text class="t" x="446" y="945" textLength="74" lengthAdjust="spacingAndGlyphs">CHI TIẾT 6</text>
<line x1="445" y1="951" x2="520" y2="951" stroke="#000" stroke-width="0.8"/>
<text class="s" x="450" y="967" textLength="19" lengthAdjust="spacingAndGlyphs">1 : 5</text>

<!-- ================= CHI TIET 7 ================= -->
<g stroke="#000" stroke-width="0.7" fill="none">
<rect x="675.3" y="655.8" width="62.1" height="332" stroke-dasharray="3,2"/>
<rect x="675.3" y="978" width="57.3" height="9" fill="url(#h)"/>
<path d="M685.4 669.4 L713.6 669.4 L713.6 693.5 L704.4 693.5 L704.4 716.7 L694.9 716.7 L694.9 771.8 L704.4 771.8 L704.4 828.3 L713.6 828.3 L713.6 884.3 L732.6 884.3 L732.6 978 L685.4 978 Z" fill="url(#h)" stroke-width="1.4"/>
<line x1="685.4" y1="628" x2="685.4" y2="669"/><line x1="713.6" y1="628" x2="713.6" y2="652"/>
<line x1="680" y1="636" x2="720" y2="636"/>
<line x1="685.4" y1="1004" x2="685.4" y2="1024"/><line x1="732.6" y1="1004" x2="732.6" y2="1024"/>
<line x1="678" y1="1015.4" x2="740" y2="1015.4"/>
<line x1="776.8" y1="662" x2="776.8" y2="983"/><line x1="795.4" y1="662" x2="795.4" y2="983"/>
<line x1="763" y1="669.4" x2="803" y2="669.4"/><line x1="765" y1="693.5" x2="785" y2="693.5"/><line x1="765" y1="716.7" x2="785" y2="716.7"/>
<line x1="765" y1="772.3" x2="785" y2="772.3"/><line x1="765" y1="828.3" x2="785" y2="828.3"/><line x1="765" y1="884.3" x2="785" y2="884.3"/>
<line x1="763" y1="978" x2="803" y2="978"/>
<line x1="680" y1="705.6" x2="716" y2="705.6"/><line x1="680" y1="748.6" x2="704" y2="748.6"/>
<line x1="680" y1="801.6" x2="716" y2="801.6"/><line x1="680" y1="860.2" x2="725" y2="860.2"/>
</g>
<g fill="#000">
<circle cx="685.4" cy="636" r="1.3"/><circle cx="713.6" cy="636" r="1.3"/><circle cx="685.4" cy="1015.4" r="1.3"/><circle cx="732.6" cy="1015.4" r="1.3"/>
<circle cx="776.8" cy="669.4" r="1.3"/><circle cx="776.8" cy="693.5" r="1.3"/><circle cx="776.8" cy="716.7" r="1.3"/><circle cx="776.8" cy="772.3" r="1.3"/><circle cx="776.8" cy="828.3" r="1.3"/><circle cx="776.8" cy="884.3" r="1.3"/><circle cx="776.8" cy="978" r="1.3"/>
<circle cx="795.4" cy="669.4" r="1.3"/><circle cx="795.4" cy="978" r="1.3"/>
<circle cx="685.4" cy="705.6" r="1.2"/><circle cx="704.4" cy="705.6" r="1.2"/><circle cx="685.4" cy="748.6" r="1.2"/><circle cx="694.9" cy="748.6" r="1.2"/>
<circle cx="685.4" cy="801.6" r="1.2"/><circle cx="704.4" cy="801.6" r="1.2"/><circle cx="685.4" cy="860.2" r="1.2"/><circle cx="713.6" cy="860.2" r="1.2"/>
</g>
<text class="n" x="699.5" y="633" text-anchor="middle">15</text>
<text class="n" x="709" y="1012" text-anchor="middle">25</text>
<text class="n" x="695" y="702" font-size="7.5">10</text>
<text class="n" x="688" y="745" font-size="7.5">5</text>
<text class="n" x="692" y="798" font-size="7.5">10</text>
<text class="n" x="694" y="857" font-size="7.5">15</text>
<text class="n" x="773" y="681" transform="rotate(-90 773 681)" text-anchor="middle">13</text>
<text class="n" x="773" y="705" transform="rotate(-90 773 705)" text-anchor="middle">13</text>
<text class="n" x="773" y="744" transform="rotate(-90 773 744)" text-anchor="middle">30</text>
<text class="n" x="773" y="800" transform="rotate(-90 773 800)" text-anchor="middle">30</text>
<text class="n" x="773" y="856" transform="rotate(-90 773 856)" text-anchor="middle">30</text>
<text class="n" x="773" y="931" transform="rotate(-90 773 931)" text-anchor="middle">50</text>
<text class="n" x="792" y="822" transform="rotate(-90 792 822)" text-anchor="middle">165</text>
<text class="t" x="684" y="1048" textLength="74" lengthAdjust="spacingAndGlyphs">CHI TIẾT 7</text>
<line x1="680" y1="1054" x2="760" y2="1054" stroke="#000" stroke-width="0.8"/>
<text class="s" x="687" y="1070" textLength="19" lengthAdjust="spacingAndGlyphs">1 : 2</text>

<!-- ================= CHI TIET 8 ================= -->
<g stroke="#000" stroke-width="0.7" fill="none">
<rect x="1074.6" y="347.5" width="130.7" height="489.2" stroke-dasharray="3,2"/>
<line x1="1074.6" y1="361.3" x2="1101" y2="361.3"/>
<path d="M1101 361.3 L1166.7 361.3 Q1186 390 1182 423 Q1178 480 1148 519 Q1160 535 1157 565 Q1152 612 1123.7 631 L1123.7 668 L1116 668 L1116 798 L1101 825 Z" fill="url(#h)" stroke-width="1.4"/>
<line x1="1148" y1="496" x2="1148" y2="519"/>
<line x1="1094" y1="423" x2="1192" y2="423"/>
<line x1="1094" y1="511" x2="1152" y2="511"/>
<line x1="1094" y1="565" x2="1166" y2="565"/>
<line x1="1094" y1="651" x2="1131" y2="651"/>
<line x1="1094" y1="767.6" x2="1127" y2="767.6"/>
<line x1="1251.6" y1="353" x2="1251.6" y2="833" stroke-width="0.9"/>
<line x1="1270.6" y1="353" x2="1270.6" y2="833" stroke-width="0.9"/>
<line x1="1237" y1="361.3" x2="1278" y2="361.3"/>
<line x1="1237" y1="519" x2="1260" y2="519"/>
<line x1="1237" y1="631" x2="1260" y2="631"/>
<line x1="1237" y1="668" x2="1260" y2="668"/>
<line x1="1237" y1="798" x2="1260" y2="798"/>
<line x1="1237" y1="825" x2="1278" y2="825"/>
</g>
<g fill="#000">
<circle cx="1101" cy="423" r="1.2"/><circle cx="1182" cy="423" r="1.2"/>
<circle cx="1101" cy="511" r="1.2"/><circle cx="1148" cy="511" r="1.2"/>
<circle cx="1101" cy="565" r="1.2"/><circle cx="1157" cy="565" r="1.2"/>
<circle cx="1101" cy="651" r="1.2"/><circle cx="1123.7" cy="651" r="1.2"/>
<circle cx="1101" cy="767.6" r="1.2"/><circle cx="1116" cy="767.6" r="1.2"/>
<circle cx="1251.6" cy="361.3" r="1.3"/><circle cx="1251.6" cy="519" r="1.3"/><circle cx="1251.6" cy="631" r="1.3"/><circle cx="1251.6" cy="668" r="1.3"/><circle cx="1251.6" cy="798" r="1.3"/><circle cx="1251.6" cy="825" r="1.3"/>
<circle cx="1270.6" cy="361.3" r="1.3"/><circle cx="1270.6" cy="825" r="1.3"/>
</g>
<text class="n" x="1142" y="419" text-anchor="middle">43</text>
<text class="n" x="1124" y="507" text-anchor="middle">25</text>
<text class="n" x="1130" y="561" text-anchor="middle">30</text>
<text class="n" x="1112" y="648" text-anchor="middle">12</text>
<text class="n" x="1108" y="765" text-anchor="middle">8</text>
<text class="n" x="1248" y="441" transform="rotate(-90 1248 441)" text-anchor="middle">85</text>
<text class="n" x="1248" y="576" transform="rotate(-90 1248 576)" text-anchor="middle">60</text>
<text class="n" x="1248" y="650" transform="rotate(-90 1248 650)" text-anchor="middle">20</text>
<text class="n" x="1248" y="734" transform="rotate(-90 1248 734)" text-anchor="middle">70</text>
<text class="n" x="1248" y="812" transform="rotate(-90 1248 812)" text-anchor="middle">15</text>
<text class="n" x="1267" y="594" transform="rotate(-90 1267 594)" text-anchor="middle">250</text>
<text class="t" x="1080" y="937" textLength="74" lengthAdjust="spacingAndGlyphs">CHI TIẾT 8</text>
<line x1="1078" y1="944" x2="1160" y2="944" stroke="#000" stroke-width="0.8"/>
<text class="s" x="1084" y="960" textLength="19" lengthAdjust="spacingAndGlyphs">1 : 2</text>
</svg>
</body></html>
